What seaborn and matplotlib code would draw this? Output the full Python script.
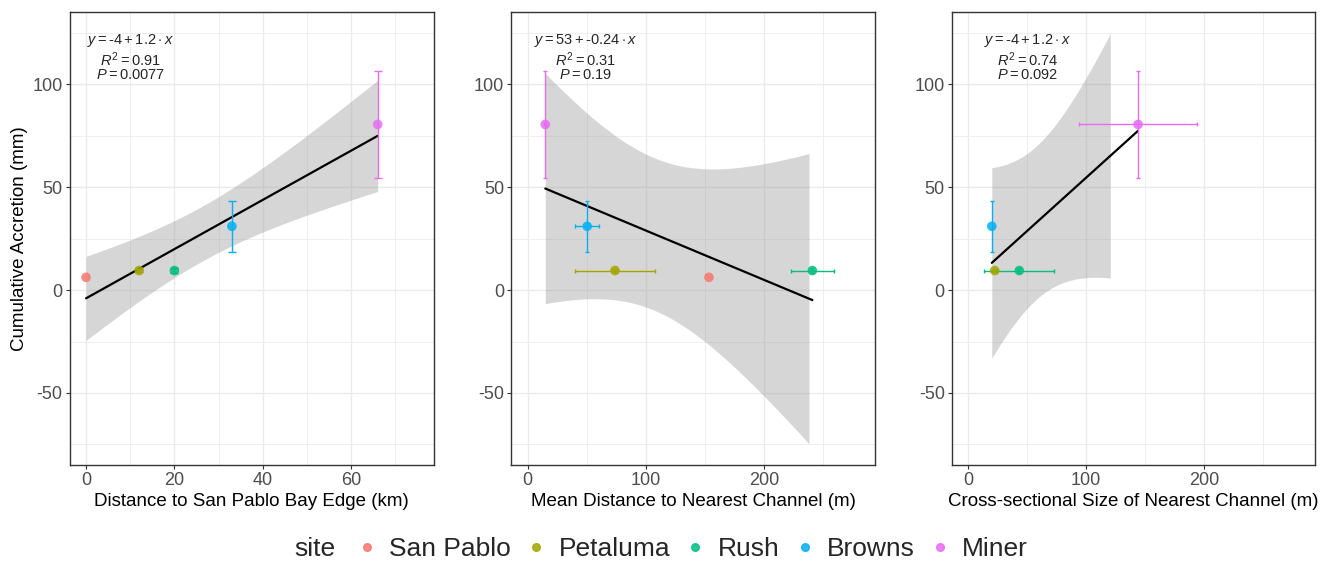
import numpy as np
import pandas as pd
import matplotlib
matplotlib.use("Agg")
import matplotlib.pyplot as plt
from matplotlib.lines import Line2D
import seaborn as sns

# ---------------- data ----------------
sites = ["San Pablo", "Petaluma", "Rush", "Browns", "Miner"]
site_colors = ["#F8766D", "#A3A500", "#00BF7D", "#00B0F6", "#E76BF3"]
accretion = [6.2, 9.5, 9.5, 31.0, 80.5]           # mm
accretion_err = [np.nan, 0.8, 1.0, 12.3, 26.1]
bay_dist = [0.0, 12.0, 20.0, 33.0, 66.0]          # km
chan_dist = [153.5, 74.0, 241.0, 50.5, 15.0]      # m
chan_dist_err = [np.nan, 34.0, 18.0, 10.0, 1.0]
chan_size = [np.nan, 22.5, 43.3, 20.0, 144.0]     # m
chan_size_err = [np.nan, 2.0, 29.8, np.nan, 50.0]

x_labels = ["Distance to San Pablo Bay Edge (km)",
            "Mean Distance to Nearest Channel (m)",
            "Cross-sectional Size of Nearest Channel (m)"]
y_label = "Cumulative Accretion (mm)"
eq_texts = [r"$y = \text{-4} + 1.2 \cdot x$",
            r"$y = 53 + \text{-0.24} \cdot x$",
            r"$y = \text{-4} + 1.2 \cdot x$"]
r2_texts = [r"$R^2 = 0.91$", r"$R^2 = 0.31$", r"$R^2 = 0.74$"]
p_texts = [r"$P = 0.0077$", r"$P = 0.19$", r"$P = 0.092$"]
x_limits = [(0, 75), (0, 280), (0, 280)]
x_major = [[0, 20, 40, 60], [0, 100, 200], [0, 100, 200]]
y_limits = (-75, 125)
y_major = [-50, 0, 50, 100]
label_x = [10, 49, 50]

df = pd.DataFrame({"site": sites, "accretion": accretion, "accretion_err": accretion_err,
                   "bay_dist": bay_dist, "bay_dist_err": [np.nan] * 5,
                   "chan_dist": chan_dist, "chan_dist_err": chan_dist_err,
                   "chan_size": chan_size, "chan_size_err": chan_size_err})
xcols = [("bay_dist", "bay_dist_err"), ("chan_dist", "chan_dist_err"), ("chan_size", "chan_size_err")]

# ---------------- style ----------------
sns.set_theme(style="white")
plt.rcParams["font.family"] = ["Liberation Sans", "DejaVu Sans"]
plt.rcParams["axes.unicode_minus"] = False
plt.rcParams["mathtext.fontset"] = "custom"
plt.rcParams["mathtext.rm"] = "Liberation Sans"
plt.rcParams["mathtext.it"] = "Liberation Sans:italic"
plt.rcParams["mathtext.bf"] = "Liberation Sans:bold"

T975 = {1: 12.706, 2: 4.303, 3: 3.182, 4: 2.776, 5: 2.571}

fig = plt.figure(figsize=(13.34, 5.64), dpi=100)
lefts = [69.5, 511, 951.7]
rights = [434, 875, 1315]
top_px, bot_px = 12.3, 465
W, H = 1334, 564
pal = dict(zip(sites, site_colors))

for i, (xc, xe) in enumerate(xcols):
    ax = fig.add_axes([lefts[i] / W, (H - bot_px) / H, (rights[i] - lefts[i]) / W,
                       (bot_px - top_px) / H])
    sub = df.dropna(subset=[xc])
    xv = sub[xc].to_numpy()
    yv = sub["accretion"].to_numpy()
    n = len(xv)
    b1, b0 = np.polyfit(xv, yv, 1)
    res = yv - (b0 + b1 * xv)
    s = np.sqrt(np.sum(res ** 2) / (n - 2))
    sxx = np.sum((xv - xv.mean()) ** 2)
    xs = np.linspace(xv.min(), xv.max(), 80)
    pred = b0 + b1 * xs
    se = s * np.sqrt(1.0 / n + (xs - xv.mean()) ** 2 / sxx)
    lo, hi = pred - T975[n - 2] * se, pred + T975[n - 2] * se
    ok = (lo >= y_limits[0]) & (hi <= y_limits[1])
    ax.fill_between(xs, lo, hi, where=ok, color="#999999", alpha=0.4, lw=0, zorder=2)
    sns.lineplot(x=xs, y=pred, color="black", lw=1.6, ax=ax, zorder=3)

    cap = 3.2 if i == 0 else 1.3
    for _, r in sub.iterrows():
        c = pal[r["site"]]
        if not np.isnan(r["accretion_err"]):
            ax.errorbar(r[xc], r["accretion"], yerr=r["accretion_err"], fmt="none",
                        ecolor=c, elinewidth=1.0, capsize=cap, capthick=1.0, zorder=4)
        if not np.isnan(r[xe]):
            ax.errorbar(r[xc], r["accretion"], xerr=r[xe], fmt="none",
                        ecolor=c, elinewidth=1.0, capsize=1.3, capthick=1.0, zorder=4)
    sns.scatterplot(data=sub, x=xc, y="accretion", hue="site", palette=pal,
                    hue_order=sites, s=48, alpha=0.85, edgecolor="none",
                    legend=False, ax=ax, zorder=5)

    xl = x_limits[i]
    xpad = (xl[1] - xl[0]) * 0.05
    ax.set_xlim(xl[0] - xpad, xl[1] + xpad)
    ypad = (y_limits[1] - y_limits[0]) * 0.05
    ax.set_ylim(y_limits[0] - ypad, y_limits[1] + ypad)
    ax.set_xticks(x_major[i])
    step = x_major[i][1] - x_major[i][0]
    ax.set_xticks(np.arange(xl[0] + step / 2, xl[1] + 0.01, step), minor=True)
    ax.set_yticks(y_major)
    ax.set_yticks([-75, -25, 25, 75, 125], minor=True)
    ax.grid(which="major", color="#EBEBEB", lw=1.0, zorder=0)
    ax.grid(which="minor", color="#EBEBEB", lw=0.6, zorder=0)
    ax.set_axisbelow(True)
    for sp in ax.spines.values():
        sp.set_color("#333333")
        sp.set_linewidth(1.0)
    ax.tick_params(which="major", length=3, width=0.8, color="#333333",
                   labelsize=13, labelcolor="#4D4D4D", bottom=True, left=True, pad=2)
    ax.tick_params(which="minor", length=0)
    ax.set_xlabel(x_labels[i], fontsize=13.5, color="black", labelpad=3)
    ax.set_ylabel(y_label if i == 0 else "", fontsize=13.5, color="black", labelpad=3)

    tx = label_x[i]
    ax.text(tx, 121.5, eq_texts[i], ha="center", va="center", fontsize=10.5, zorder=6)
    ax.text(tx, 112.0, r2_texts[i], ha="center", va="center", fontsize=10.5, zorder=6)
    ax.text(tx, 104.5, p_texts[i], ha="center", va="center", fontsize=10.5, zorder=6)

# legend
handles = [Line2D([], [], marker="o", ls="none", color=c, markersize=5.5, alpha=0.85)
           for c in site_colors]
fig.legend(handles, sites, loc="center", bbox_to_anchor=(691 / W, (H - 549) / H),
           ncol=5, frameon=False, fontsize=19, handletextpad=0.35, columnspacing=0.45,
           handlelength=1.0, borderpad=0)
fig.text(294 / W, (H - 549) / H, "site", ha="left", va="center", fontsize=19)

fig.savefig("out.png", dpi=100)
